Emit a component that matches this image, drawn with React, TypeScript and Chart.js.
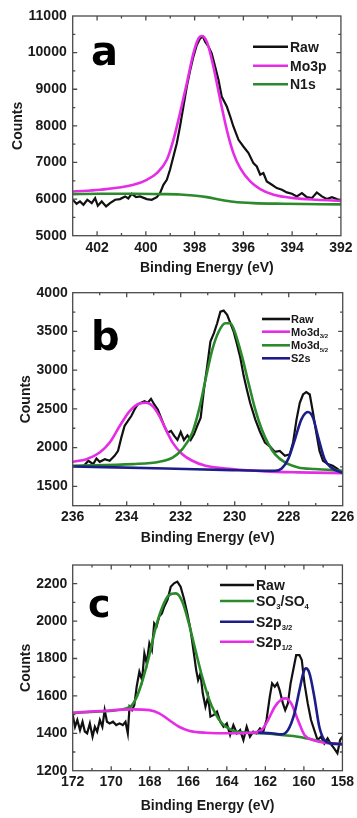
import React, { useEffect, useRef } from 'react';
import { Chart, registerables } from 'chart.js';
Chart.register(...registerables);

const FONT = '"Liberation Sans", Arial, sans-serif';
const LETTER_FONT = '"DejaVu Sans", "Liberation Sans", sans-serif';
const TEXT = '#1a1a1a';
const BLACK = '#111111';
const MAGENTA = '#e52de5';
const GREEN = '#2b8a2b';
const NAVY = '#1d1d8a';

// ---------- Panel a : N1s / Mo3p ----------
const aXTicks = [402, 400, 398, 396, 394, 392];
const aYTicks = [5000, 6000, 7000, 8000, 9000, 10000, 11000];
const aRawE = [403.0, 402.84, 402.7, 402.56, 402.4, 402.22, 402.08, 401.97, 401.81, 401.63, 401.47, 401.26, 401.06, 400.85, 400.72, 400.58, 400.4, 400.24, 399.96, 399.76, 399.55, 399.42, 399.28, 399.14, 399.01, 398.87, 398.73, 398.6, 398.46, 398.32, 398.18, 398.05, 397.91, 397.77, 397.66, 397.57, 397.43, 397.3, 397.16, 397.02, 396.89, 396.68, 396.54, 396.41, 396.2, 396.0, 395.79, 395.59, 395.45, 395.31, 395.18, 395.04, 394.83, 394.63, 394.42, 394.22, 394.01, 393.81, 393.6, 393.4, 393.19, 392.99, 392.78, 392.58, 392.37, 392.17, 392.0];
const aRawV = [5982, 5873, 5936, 5845, 5982, 5890, 6027, 5818, 5936, 5800, 5890, 5982, 6000, 6073, 6018, 6145, 6054, 6073, 6000, 5982, 6054, 6164, 6391, 6527, 6800, 7164, 7527, 7982, 8527, 9073, 9527, 9891, 10209, 10391, 10436, 10300, 10164, 9982, 9618, 9255, 8800, 8527, 8255, 7982, 7618, 7436, 7255, 6982, 6891, 6664, 6709, 6482, 6391, 6300, 6255, 6182, 6145, 6073, 6164, 6054, 6027, 6182, 6073, 6000, 6054, 6000, 5936];
const aMo3pE = [403.0, 401.88, 400.51, 399.96, 399.55, 399.14, 398.87, 398.6, 398.32, 398.05, 397.84, 397.71, 397.5, 397.23, 396.95, 396.68, 396.41, 396.13, 395.72, 395.31, 394.76, 393.94, 392.99, 392.0];
const aMo3pV = [6209, 6255, 6391, 6527, 6709, 7073, 7618, 8345, 9164, 9982, 10391, 10455, 10300, 9618, 8709, 7891, 7255, 6845, 6482, 6273, 6118, 6027, 5982, 5955];
const aN1sE = [403.0, 401.88, 400.51, 399.42, 398.6, 398.05, 397.5, 396.95, 396.41, 395.59, 394.35, 392.0];
const aN1sV = [6136, 6145, 6145, 6136, 6127, 6100, 6054, 5982, 5927, 5890, 5873, 5855];

// ---------- Panel b : Mo3d / S2s ----------
const bXTicks = [236, 234, 232, 230, 228, 226];
const bYTicks = [1500, 2000, 2500, 3000, 3500, 4000];
const bRawE = [235.61, 235.42, 235.24, 235.12, 235.0, 234.81, 234.63, 234.45, 234.32, 234.2, 234.08, 233.96, 233.83, 233.71, 233.59, 233.47, 233.34, 233.22, 233.1, 232.98, 232.85, 232.73, 232.61, 232.49, 232.36, 232.24, 232.12, 232.0, 231.88, 231.75, 231.63, 231.51, 231.39, 231.26, 231.14, 231.02, 230.9, 230.77, 230.65, 230.53, 230.41, 230.28, 230.16, 230.04, 229.92, 229.79, 229.67, 229.55, 229.43, 229.24, 229.06, 228.88, 228.69, 228.51, 228.33, 228.14, 227.96, 227.84, 227.71, 227.59, 227.47, 227.35, 227.22, 227.1, 226.98, 226.86, 226.73, 226.55, 226.37, 226.18, 226.0];
const bRawV = [1757, 1830, 1787, 1860, 1817, 1851, 1830, 1894, 1958, 2129, 2279, 2343, 2408, 2493, 2557, 2579, 2600, 2579, 2630, 2557, 2493, 2386, 2279, 2193, 2215, 2151, 2099, 2202, 2099, 2159, 2099, 2172, 2279, 2386, 2750, 3050, 3370, 3478, 3606, 3756, 3769, 3713, 3606, 3499, 3341, 3157, 2930, 2750, 2579, 2365, 2202, 2065, 2014, 1945, 1958, 1894, 1915, 2065, 2365, 2579, 2686, 2716, 2686, 2450, 2193, 1958, 1830, 1787, 1765, 1723, 1671];
const bMo32E = [236.0, 235.49, 235.0, 234.63, 234.26, 233.89, 233.53, 233.28, 233.04, 232.79, 232.55, 232.3, 231.94, 231.57, 231.08, 230.1, 228.88, 227.65, 226.0];
const bMo32V = [1817, 1851, 1937, 2065, 2279, 2472, 2570, 2579, 2536, 2408, 2236, 2065, 1915, 1830, 1765, 1723, 1693, 1680, 1671];
const bMo52E = [236.0, 233.77, 232.79, 232.3, 231.94, 231.57, 231.32, 231.08, 230.83, 230.59, 230.35, 230.16, 229.98, 229.73, 229.49, 229.24, 229.0, 228.75, 228.51, 228.14, 227.65, 227.04, 226.0];
const bMo52V = [1765, 1787, 1817, 1872, 1980, 2193, 2493, 2879, 3264, 3499, 3606, 3606, 3478, 3178, 2836, 2493, 2236, 2044, 1915, 1808, 1744, 1723, 1701];
const bS2sE = [236.0, 232.55, 230.1, 228.51, 228.26, 228.02, 227.77, 227.53, 227.29, 227.1, 226.92, 226.67, 226.43, 226.0];
const bS2sV = [1756, 1731, 1709, 1701, 1731, 1851, 2107, 2365, 2459, 2386, 2150, 1851, 1744, 1671];

// ---------- Panel c : S2p ----------
const cXTicks = [172, 170, 168, 166, 164, 162, 160, 158];
const cYTicks = [1200, 1400, 1600, 1800, 2000, 2200];
const cRawE = [172.0, 171.88, 171.76, 171.62, 171.49, 171.37, 171.25, 171.11, 170.97, 170.85, 170.73, 170.59, 170.46, 170.34, 170.22, 170.08, 169.91, 169.74, 169.57, 169.4, 169.26, 169.14, 169.05, 168.92, 168.8, 168.68, 168.54, 168.4, 168.28, 168.16, 168.02, 167.89, 167.77, 167.65, 167.51, 167.37, 167.25, 167.08, 166.91, 166.74, 166.57, 166.4, 166.23, 166.05, 165.88, 165.71, 165.59, 165.49, 165.37, 165.25, 165.11, 164.97, 164.85, 164.68, 164.51, 164.34, 164.17, 164.0, 163.83, 163.66, 163.48, 163.31, 163.14, 162.97, 162.8, 162.63, 162.46, 162.28, 162.11, 161.94, 161.77, 161.65, 161.51, 161.38, 161.26, 161.09, 160.97, 160.83, 160.69, 160.52, 160.4, 160.23, 160.11, 159.97, 159.8, 159.63, 159.46, 159.29, 159.11, 158.94, 158.77, 158.6, 158.43, 158.26, 158.12, 158.0];
const cRawV = [1498, 1435, 1471, 1417, 1462, 1409, 1400, 1453, 1382, 1435, 1409, 1471, 1435, 1524, 1462, 1453, 1462, 1444, 1453, 1444, 1462, 1400, 1542, 1524, 1551, 1649, 1729, 1685, 1827, 1774, 1881, 1845, 1988, 1970, 2024, 2041, 2077, 2113, 2184, 2202, 2211, 2184, 2122, 2041, 1952, 1827, 1738, 1685, 1720, 1614, 1542, 1596, 1489, 1498, 1516, 1462, 1435, 1453, 1391, 1444, 1400, 1417, 1364, 1435, 1382, 1409, 1400, 1426, 1409, 1471, 1596, 1667, 1649, 1667, 1631, 1560, 1524, 1560, 1667, 1756, 1818, 1818, 1792, 1667, 1560, 1471, 1417, 1364, 1382, 1346, 1373, 1342, 1319, 1293, 1364, 1382];
const cSOE = [172.0, 170.59, 169.05, 168.71, 168.37, 168.02, 167.68, 167.34, 167.0, 166.65, 166.31, 165.97, 165.63, 165.28, 164.94, 164.6, 164.25, 163.74, 162.88, 162.03, 161.17, 160.31, 159.46, 158.6, 158.0];
const cSOV = [1508, 1517, 1540, 1587, 1685, 1819, 1970, 2077, 2139, 2148, 2104, 1988, 1845, 1703, 1587, 1507, 1453, 1417, 1403, 1400, 1391, 1382, 1364, 1346, 1342];
const cS32E = [162.37, 161.68, 161.17, 160.83, 160.49, 160.23, 160.01, 159.89, 159.71, 159.46, 159.2, 158.94, 158.6, 158.0];
const cS32V = [1403, 1400, 1394, 1417, 1507, 1631, 1729, 1747, 1720, 1596, 1435, 1364, 1346, 1342];
const cS12E = [172.0, 170.59, 168.88, 168.02, 167.51, 167.0, 166.48, 165.97, 165.11, 163.74, 162.71, 162.2, 161.86, 161.51, 161.17, 160.96, 160.66, 160.31, 159.97, 159.54, 158.94, 158.0];
const cS12V = [1510, 1519, 1528, 1524, 1507, 1471, 1435, 1414, 1403, 1400, 1403, 1417, 1471, 1542, 1581, 1587, 1560, 1471, 1391, 1364, 1350, 1342];

type Part = { t: string; sub?: boolean };
type Series = { label: Part[]; E: number[]; V: number[]; color: string; width: number; raw?: boolean; order: number };
type PanelCfg = {
  top: number; height: number;
  area: { left: number; right: number; top: number; bottom: number };
  xMin: number; xMax: number; xTicks: number[];
  yMin: number; yMax: number; yTicks: number[];
  xTickPad: number; yTickPad: number; xTitlePad: number; yTitlePad: number;
  letter: string; letterX: number; letterY: number; letterSize: number;
  legend: { x0: number; x1: number; tx: number; rows: number[]; size: number };
  series: Series[];
};

const W = 357;

const panels: PanelCfg[] = [
  {
    top: 0, height: 281,
    area: { left: 72.7, right: 341.5, top: 16, bottom: 235.7 },
    xMin: 392, xMax: 403, xTicks: aXTicks, yMin: 5000, yMax: 11000, yTicks: aYTicks,
    xTickPad: 4.4, yTickPad: 6, xTitlePad: 4.6, yTitlePad: 9.3,
    letter: 'a', letterX: 91, letterY: 65, letterSize: 40,
    legend: { x0: 253, x1: 288, tx: 290, rows: [46.7, 65.7, 84.3], size: 14 },
    series: [
      { label: [{ t: 'Raw' }], E: aRawE, V: aRawV, color: BLACK, width: 2.2, raw: true, order: 10 },
      { label: [{ t: 'Mo3p' }], E: aMo3pE, V: aMo3pV, color: MAGENTA, width: 2.6, order: 2 },
      { label: [{ t: 'N1s' }], E: aN1sE, V: aN1sV, color: GREEN, width: 2.6, order: 3 },
    ],
  },
  {
    top: 270, height: 281,
    area: { left: 72.7, right: 344.5, top: 22.7, bottom: 235.7 },
    xMin: 226, xMax: 236, xTicks: bXTicks, yMin: 1250, yMax: 4000, yTicks: bYTicks,
    xTickPad: 2.6, yTickPad: 5, xTitlePad: 4.3, yTitlePad: 17.6,
    letter: 'b', letterX: 91, letterY: 80, letterSize: 40,
    legend: { x0: 262, x1: 290, tx: 291, rows: [49, 61.7, 75.3, 88.3], size: 11 },
    series: [
      { label: [{ t: 'Raw' }], E: bRawE, V: bRawV, color: BLACK, width: 2.2, raw: true, order: 10 },
      { label: [{ t: 'Mo3d' }, { t: '3/2', sub: true }], E: bMo32E, V: bMo32V, color: MAGENTA, width: 2.6, order: 3 },
      { label: [{ t: 'Mo3d' }, { t: '5/2', sub: true }], E: bMo52E, V: bMo52V, color: GREEN, width: 2.6, order: 2 },
      { label: [{ t: 'S2s' }], E: bS2sE, V: bS2sV, color: NAVY, width: 2.6, order: 1 },
    ],
  },
  {
    top: 540, height: 278,
    area: { left: 72.7, right: 345, top: 25, bottom: 230.7 },
    xMin: 158, xMax: 172, xTicks: cXTicks, yMin: 1200, yMax: 2300, yTicks: cYTicks,
    xTickPad: 2.9, yTickPad: 5.4, xTitlePad: 3.6, yTitlePad: 17.6,
    letter: 'c', letterX: 88, letterY: 76.7, letterSize: 38,
    legend: { x0: 220, x1: 254, tx: 256, rows: [45, 61, 81.7, 101.7], size: 14 },
    series: [
      { label: [{ t: 'Raw' }], E: cRawE, V: cRawV, color: BLACK, width: 2.2, raw: true, order: 10 },
      { label: [{ t: 'SO' }, { t: '3', sub: true }, { t: '/SO' }, { t: '4', sub: true }], E: cSOE, V: cSOV, color: GREEN, width: 2.6, order: 4 },
      { label: [{ t: 'S2p' }, { t: '3/2', sub: true }], E: cS32E, V: cS32V, color: NAVY, width: 2.6, order: 2 },
      { label: [{ t: 'S2p' }, { t: '1/2', sub: true }], E: cS12E, V: cS12V, color: MAGENTA, width: 2.6, order: 3 },
    ],
  },
];

function makeDecor(cfg: PanelCfg) {
  return {
    id: 'xpsDecor',
    afterDatasetsDraw(chart: any) {
      const ctx: CanvasRenderingContext2D = chart.ctx;
      const { left, right, top, bottom } = chart.chartArea;
      const xs = chart.scales.x;
      const ys = chart.scales.y;
      ctx.save();
      // frame
      ctx.strokeStyle = '#4a4a4a';
      ctx.lineWidth = 1.3;
      ctx.strokeRect(left, top, right - left, bottom - top);
      // tick marks (inward, on all four sides)
      const marks = (scale: any) => {
        const vals: number[] = scale.ticks.map((t: any) => t.value).sort((p: number, q: number) => p - q);
        const step = vals.length > 1 ? vals[1] - vals[0] : 1;
        const out: { v: number; major: boolean }[] = [];
        vals.forEach((v) => out.push({ v, major: true }));
        vals.forEach((v) => out.push({ v: v + step / 2, major: false }));
        out.push({ v: vals[0] - step / 2, major: false });
        return out.filter((m) => m.v > scale.min + 1e-9 && m.v < scale.max - 1e-9);
      };
      ctx.beginPath();
      marks(xs).forEach((m) => {
        const p = xs.getPixelForValue(m.v);
        const L = m.major ? 4.5 : 2.6;
        ctx.moveTo(p, bottom); ctx.lineTo(p, bottom - L);
        ctx.moveTo(p, top); ctx.lineTo(p, top + L);
      });
      marks(ys).forEach((m) => {
        const p = ys.getPixelForValue(m.v);
        const L = m.major ? 4.5 : 2.6;
        ctx.moveTo(left, p); ctx.lineTo(left + L, p);
        ctx.moveTo(right, p); ctx.lineTo(right - L, p);
      });
      ctx.stroke();

      // panel letter
      ctx.fillStyle = '#000';
      ctx.textBaseline = 'alphabetic';
      ctx.textAlign = 'left';
      ctx.font = `bold ${cfg.letterSize}px ${LETTER_FONT}`;
      ctx.fillText(cfg.letter, cfg.letterX, cfg.letterY);

      // legend
      const lg = cfg.legend;
      cfg.series.forEach((s, i) => {
        const y = lg.rows[i];
        ctx.strokeStyle = s.color;
        ctx.lineWidth = 2.6;
        ctx.beginPath();
        ctx.moveTo(lg.x0, y);
        ctx.lineTo(lg.x1, y);
        ctx.stroke();
        let x = lg.tx;
        ctx.fillStyle = TEXT;
        s.label.forEach((p) => {
          const size = p.sub ? lg.size * 0.55 : lg.size;
          ctx.font = `bold ${size}px ${FONT}`;
          const by = y + lg.size * 0.36 + (p.sub ? lg.size * 0.22 : 0);
          ctx.fillText(p.t, x, by);
          x += ctx.measureText(p.t).width;
        });
      });
      ctx.restore();
    },
  };
}

function Panel({ cfg }: { cfg: PanelCfg }) {
  const ref = useRef<HTMLCanvasElement>(null);
  useEffect(() => {
    const tickFont = { family: FONT, size: 14, weight: 'bold' as const };
    const chart = new Chart(ref.current as HTMLCanvasElement, {
      type: 'line',
      data: {
        datasets: cfg.series.map((s) => ({
          label: s.label.map((p) => p.t).join(''),
          data: s.E.map((e, i) => ({ x: e, y: s.V[i] })),
          borderColor: s.color,
          borderWidth: s.width,
          pointRadius: 0,
          fill: false,
          tension: s.raw ? 0 : 0.4,
          cubicInterpolationMode: s.raw ? 'default' : 'monotone',
          order: s.order,
        })) as any,
      },
      options: {
        responsive: false,
        animation: false,
        events: [],
        layout: { padding: { left: 0, top: cfg.area.top, right: W - cfg.area.right, bottom: 0 } },
        plugins: { legend: { display: false }, tooltip: { enabled: false }, title: { display: false } },
        scales: {
          x: {
            type: 'linear',
            reverse: true,
            min: cfg.xMin,
            max: cfg.xMax,
            afterBuildTicks: (s: any) => { s.ticks = cfg.xTicks.map((v) => ({ value: v })); },
            ticks: { font: tickFont, color: TEXT, padding: cfg.xTickPad, maxRotation: 0, autoSkip: false, callback: (v: any) => String(v) },
            grid: { display: false, drawTicks: false },
            border: { display: false },
            title: { display: true, text: 'Binding Energy (eV)', font: tickFont, color: TEXT, padding: { top: 0, bottom: cfg.xTitlePad } },
            afterFit: (s: any) => { s.height = cfg.height - cfg.area.bottom; },
          },
          y: {
            type: 'linear',
            min: cfg.yMin,
            max: cfg.yMax,
            afterBuildTicks: (s: any) => { s.ticks = cfg.yTicks.map((v) => ({ value: v })); },
            ticks: { font: tickFont, color: TEXT, padding: cfg.yTickPad, autoSkip: false, callback: (v: any) => String(v) },
            grid: { display: false, drawTicks: false },
            border: { display: false },
            title: { display: true, text: 'Counts', font: tickFont, color: TEXT, padding: { top: cfg.yTitlePad, bottom: 0 } },
            afterFit: (s: any) => { s.width = cfg.area.left; },
          },
        },
      } as any,
      plugins: [makeDecor(cfg)],
    });
    return () => chart.destroy();
  }, [cfg]);
  return (
    <div style={{ position: 'absolute', left: 0, top: cfg.top, width: W, height: cfg.height }}>
      <canvas ref={ref} width={W} height={cfg.height} style={{ display: 'block' }} />
    </div>
  );
}

export default function App() {
  return (
    <div style={{ position: 'absolute', left: 0, top: 0, width: W, height: 818, background: '#fff' }}>
      {panels.map((p, i) => (
        <Panel key={i} cfg={p} />
      ))}
    </div>
  );
}
